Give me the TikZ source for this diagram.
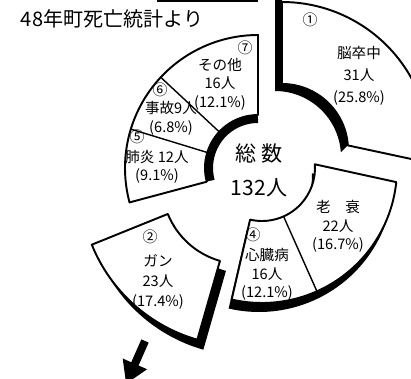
\documentclass[tikz,border=0pt]{standalone}
\usepackage{fontspec}
\newfontfamily\jp{Noto Sans CJK JP}
\usepackage{tikz}
\usetikzlibrary{calc,arrows.meta}

\tikzset{
  piece/.style={draw=black,fill=white,line width=1.1pt,line join=round},
  lbl/.style={font=\jp\fontsize{8.3}{10.5}\selectfont,align=center,inner sep=0pt},
  nmb/.style={font=\jp\fontsize{8.5}{9}\selectfont,inner sep=0pt}
}

\begin{document}
\begin{tikzpicture}[x=0.02cm,y=0.02cm]
\clip (0,0) rectangle (411,378);
\fill[white] (0,0) rectangle (411,378);

\coordinate (c1) at (282,228);
\coordinate (c2) at (242,194);
\coordinate (c34) at (262,210);
\coordinate (c567) at (258,210);
\coordinate (c2s) at ($(c2)+(6,-10)$);
\coordinate (c34s) at ($(c34)+(-3,-9)$);

% shadows
\fill ($(c1)+(90:150)$) -- ($(c1)+(90:66)$) arc[start angle=90,end angle=4,radius=66]
  -- ++(-7,-7) arc[start angle=4,end angle=90,radius=66] -- ++(0,95) -- cycle;
\fill ($(c2s)+(202:80)$) -- ($(c2s)+(202:162)$) arc[start angle=202,end angle=254,radius=162]
  -- ($(c2s)+(254:80)$) arc[start angle=254,end angle=202,radius=80] -- cycle;
\fill ($(c34s)+(4:53)$) -- ($(c34s)+(-6:135)$) arc[start angle=-6,end angle=-103,radius=135]
  -- ($(c34s)+(-103:53)$) arc[start angle=-103,end angle=4,radius=53] -- cycle;
\draw[line width=0.16cm] ($(c567)+(90:49)$) arc[start angle=90,end angle=195,radius=49];

% pieces
\draw[piece] ($(c1)+(90:148)$) -- ($(c1)+(90:66)$) arc[start angle=90,end angle=4,radius=66]
  -- ($(c1)+(-5:148)$) arc[start angle=-5,end angle=90,radius=148] -- cycle;
\draw[piece] ($(c2)+(202:80)$) -- ($(c2)+(202:162)$) arc[start angle=202,end angle=254,radius=162]
  -- ($(c2)+(254:80)$) arc[start angle=254,end angle=202,radius=80] -- cycle;
\draw[piece] ($(c34)+(4:53)$) -- ($(c34)+(-6:135)$) arc[start angle=-6,end angle=-103,radius=135]
  -- ($(c34)+(-103:53)$) arc[start angle=-103,end angle=4,radius=53] -- cycle;
\draw[piece] ($(c567)+(90:53)$) -- ($(c567)+(90:133)$) arc[start angle=90,end angle=195,radius=133]
  -- ($(c567)+(195:53)$) arc[start angle=195,end angle=90,radius=53] -- cycle;

\draw[line width=0.8pt] ($(c34)+(-66:53)$) -- ($(c34)+(-66:135)$);
\foreach \a in {137,163}
  \draw[line width=0.8pt] ($(c567)+(\a:53)$) -- ($(c567)+(\a:133)$);

% labels
\node[nmb] (n1) at (310,358) {①};
\node[lbl,font=\jp\fontsize{8.3}{12.5}\selectfont] (t1) at (359,302) {脳卒中\\31人\\(25.8\%)};
\node[nmb] (n2) at (150,141) {②};
\node[lbl,font=\jp\fontsize{8.3}{11.4}\selectfont] (t2) at (158,96) {ガン\\23人\\(17.4\%)};
\node[lbl] (t3) at (338,151.5) {老\quad 衰\\22人\\(16.7\%)};
\node[nmb] (n4) at (253,143) {④};
\node[lbl] (t4) at (267,103.5) {心臓病\\16人\\(12.1\%)};
\node[nmb] (n5) at (137,241) {⑤};
\node[lbl] (t5) at (157,211) {肺炎 12人\\(9.1\%)};
\node[nmb] (n6) at (160,288) {⑥};
\node[lbl] (t6) at (171,259.5) {事故9人\\(6.8\%)};
\node[nmb] (n7) at (245,330) {⑦};
\node[lbl] (t7) at (220,294) {その他\\16人\\(12.1\%)};
\node[font=\jp\fontsize{12}{19.3}\selectfont,align=center,inner sep=0pt] (total) at (259,208) {総 数\\132人};

\node[font=\jp\fontsize{11.4}{12}\selectfont,inner sep=0pt] (title) at (112,359) {48年町死亡統計より};
\draw[line width=2pt] (157,377.5) -- (258,377.5);

\coordinate (arrtop) at (145,37);
\coordinate (arrtip) at (126,-6);
\draw[line width=0.16cm,-{Triangle[length=0.44cm,width=0.5cm]}] (arrtop) -- (arrtip);
\end{tikzpicture}
\end{document}
